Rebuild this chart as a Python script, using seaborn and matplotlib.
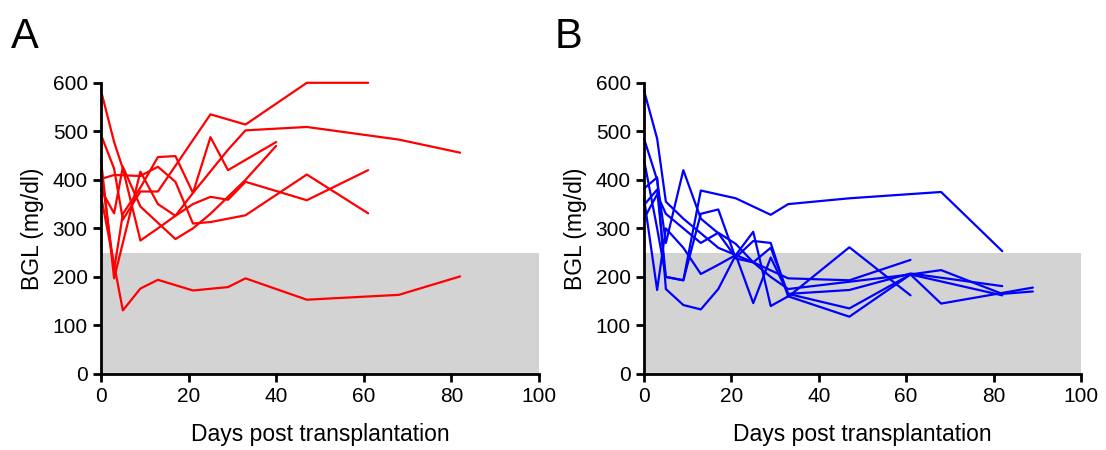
import pandas as pd
import matplotlib
matplotlib.use("Agg")
import matplotlib.pyplot as plt
import seaborn as sns

# Blood glucose per animal, panel A (red) and panel B (blue)
red_days = [
    [0, 3, 5, 9, 13, 17, 21, 25, 29, 33, 47, 61],
    [0, 3, 5, 9, 13, 25, 33, 47, 61],
    [0, 3, 9, 13, 17, 21, 25, 33, 47, 61],
    [0, 3, 9, 13, 17, 21, 29, 33, 47, 68, 82],
    [0, 3, 5, 9, 13, 17, 21, 25, 29, 40],
    [0, 3, 5, 9, 17, 21, 25, 33, 40],
    [0, 5, 9, 13, 21, 29, 33, 47, 68, 82],
]
red_bgl = [
    [584, 478, 423, 275, 300, 326, 350, 365, 359, 396, 358, 420],
    [493, 423, 318, 376, 376, 535, 514, 600, 600],
    [402, 410, 408, 427, 396, 310, 313, 327, 411, 331],
    [441, 197, 417, 350, 326, 373, 462, 502, 509, 483, 456],
    [422, 215, 330, 384, 447, 449, 373, 488, 420, 478],
    [380, 331, 427, 345, 278, 300, 330, 400, 470],
    [367, 131, 176, 194, 172, 179, 197, 153, 163, 201],
]

blue_days = [
    [0, 3, 5, 9, 13, 21, 29, 33, 47, 68, 82],
    [0, 3, 5, 9, 13, 17, 21, 25, 29, 33, 47, 61, 82],
    [0, 3, 5, 9, 13, 17, 21, 25, 29, 33, 47, 61],
    [0, 3, 5, 9, 13, 17, 21, 25, 29, 33, 47, 61, 68, 82, 89],
    [0, 3, 5, 9, 13, 17, 21, 25, 29, 33, 47, 61, 68, 89],
    [0, 3, 5, 9, 13, 17, 21, 25, 33, 47, 61],
    [0, 3, 5, 9, 13, 17, 21, 25, 29, 33, 47, 61, 82],
]
blue_bgl = [
    [441, 300, 200, 193, 378, 362, 328, 350, 362, 375, 253],
    [584, 485, 355, 320, 290, 260, 245, 230, 200, 175, 190, 205, 162],
    [485, 400, 270, 420, 320, 290, 240, 274, 270, 159, 261, 162],
    [382, 405, 175, 142, 133, 175, 245, 146, 240, 165, 135, 205, 214, 165, 170],
    [362, 173, 300, 260, 206, 225, 245, 293, 140, 160, 118, 205, 145, 178],
    [348, 380, 200, 193, 330, 339, 238, 230, 197, 193, 235],
    [320, 370, 330, 300, 270, 291, 268, 230, 260, 165, 173, 207, 181],
]


def to_long(days, vals):
    rows = []
    for i, (d, v) in enumerate(zip(days, vals)):
        for x, y in zip(d, v):
            rows.append({"id": i, "day": x, "bgl": y})
    return pd.DataFrame(rows)


sns.set_style("ticks")
plt.rcParams['font.family'] = ['Liberation Sans', 'DejaVu Sans']
plt.rcParams['text.color'] = 'black'
plt.rcParams['axes.labelcolor'] = 'black'
plt.rcParams['xtick.color'] = 'black'
plt.rcParams['ytick.color'] = 'black'
plt.rcParams['axes.edgecolor'] = 'black'

fig = plt.figure(figsize=(11.06, 4.5), dpi=100)
ax_a = fig.add_axes([0.0913, 0.169, 0.396, 0.647])
ax_b = fig.add_axes([0.5823, 0.169, 0.395, 0.647])

panels = [(ax_a, red_days, red_bgl, "#ff0000", "A"),
          (ax_b, blue_days, blue_bgl, "#0000ff", "B")]

for ax, days, vals, col, letter in panels:
    ax.axhspan(0, 250, color="#d3d3d3", lw=0, zorder=0)
    sns.lineplot(data=to_long(days, vals), x="day", y="bgl", units="id",
                 estimator=None, sort=False, color=col, lw=1.6, ax=ax,
                 clip_on=False)
    ax.set_xlim(0, 100)
    ax.set_ylim(0, 600)
    ax.set_xticks([0, 20, 40, 60, 80, 100])
    ax.set_yticks([0, 100, 200, 300, 400, 500, 600])
    ax.set_xlabel("Days post transplantation", fontsize=16.5, labelpad=12)
    ax.set_ylabel("BGL (mg/dl)", fontsize=16.5, labelpad=6)
    ax.tick_params(labelsize=15, width=2, length=6, direction="out")
    for s in ["left", "bottom"]:
        ax.spines[s].set_linewidth(2)
        ax.spines[s].set_zorder(5)
    for s in ["top", "right"]:
        ax.spines[s].set_visible(False)
    ax.set_facecolor("none")
    ax.text(-0.205, 1.09, letter, transform=ax.transAxes, fontsize=30,
            va="bottom", ha="left")

fig.savefig("out.png", dpi=100)
